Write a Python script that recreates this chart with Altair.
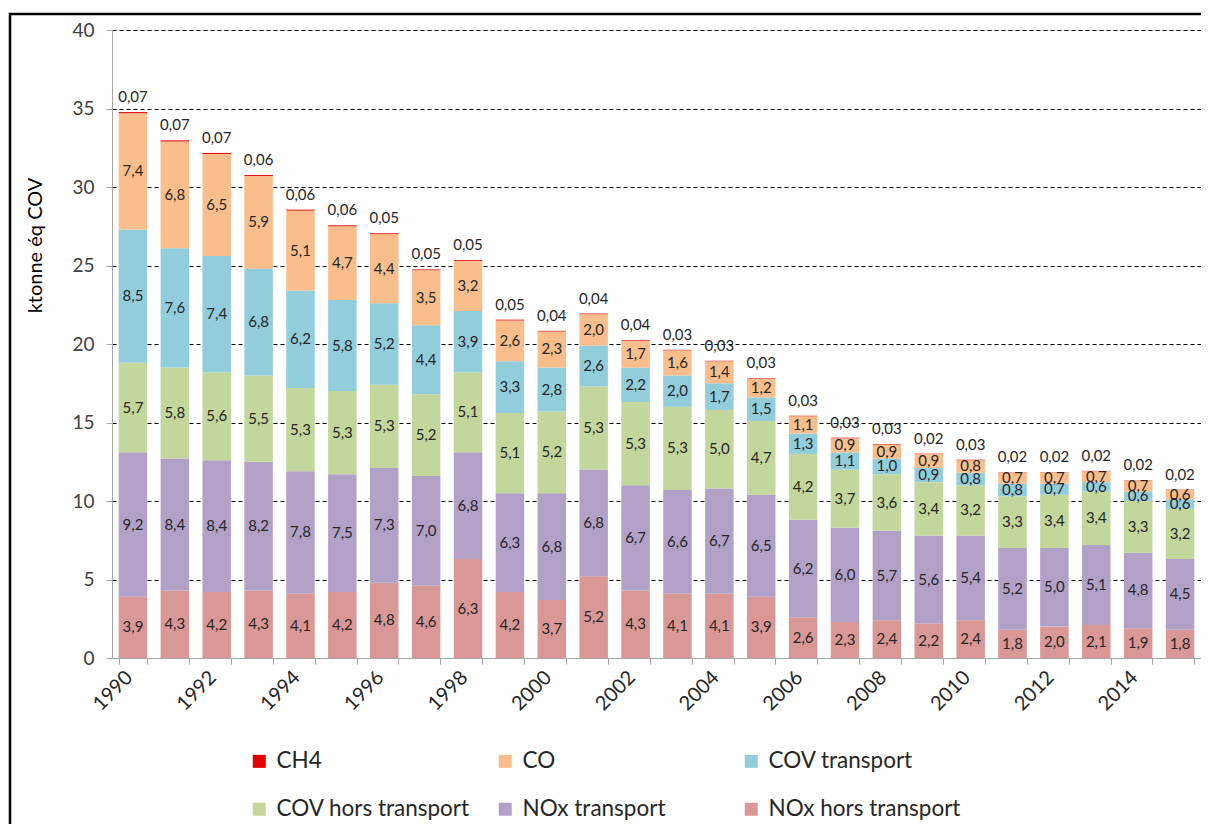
import altair as alt
import pandas as pd

years = list(range(1990, 2016))
series_names = ["CH4", "CO", "COV transport", "COV hors transport", "NOx transport", "NOx hors transport"]
series_colors = ["#E00000", "#F9BE8C", "#92CDDC", "#C3D69B", "#B2A1C7", "#D99795"]

nox_hors = [3.9, 4.3, 4.2, 4.3, 4.1, 4.2, 4.8, 4.6, 6.3, 4.2, 3.7, 5.2, 4.3, 4.1, 4.1, 3.9, 2.6, 2.3, 2.4, 2.2, 2.4, 1.8, 2.0, 2.1, 1.9, 1.8]
nox_transport = [9.2, 8.4, 8.4, 8.2, 7.8, 7.5, 7.3, 7.0, 6.8, 6.3, 6.8, 6.8, 6.7, 6.6, 6.7, 6.5, 6.2, 6.0, 5.7, 5.6, 5.4, 5.2, 5.0, 5.1, 4.8, 4.5]
cov_hors = [5.7, 5.8, 5.6, 5.5, 5.3, 5.3, 5.3, 5.2, 5.1, 5.1, 5.2, 5.3, 5.3, 5.3, 5.0, 4.7, 4.2, 3.7, 3.6, 3.4, 3.2, 3.3, 3.4, 3.4, 3.3, 3.2]
cov_transport = [8.5, 7.6, 7.4, 6.8, 6.2, 5.8, 5.2, 4.4, 3.9, 3.3, 2.8, 2.6, 2.2, 2.0, 1.7, 1.5, 1.3, 1.1, 1.0, 0.9, 0.8, 0.8, 0.7, 0.6, 0.6, 0.6]
co = [7.4, 6.8, 6.5, 5.9, 5.1, 4.7, 4.4, 3.5, 3.2, 2.6, 2.3, 2.0, 1.7, 1.6, 1.4, 1.2, 1.1, 0.9, 0.9, 0.9, 0.8, 0.7, 0.7, 0.7, 0.7, 0.6]
ch4 = [0.07, 0.07, 0.07, 0.06, 0.06, 0.06, 0.05, 0.05, 0.05, 0.05, 0.04, 0.04, 0.04, 0.03, 0.03, 0.03, 0.03, 0.03, 0.03, 0.02, 0.03, 0.02, 0.02, 0.02, 0.02, 0.02]

stack_order = [
    ("NOx hors transport", nox_hors),
    ("NOx transport", nox_transport),
    ("COV hors transport", cov_hors),
    ("COV transport", cov_transport),
    ("CO", co),
    ("CH4", ch4),
]

rows = []
for idx, (name, vals) in enumerate(stack_order):
    for y, v in zip(years, vals):
        rows.append({"year": y, "series": name, "value": v, "idx": idx})
df = pd.DataFrame(rows)

FONT = "Lato"
TXT = "#262626"

xscale = alt.Scale(paddingInner=0.32, paddingOuter=0.16)
yscale = alt.Scale(domain=[0, 40])

x_axis = alt.Axis(
    title=None,
    labelAngle=-45,
    labelAlign="right",
    labelBaseline="top",
    labelFont=FONT,
    labelFontSize=20,
    labelColor=TXT,
    labelPadding=3,
    labelOffset=-11,
    labelOverlap=False,
    labelExpr="datum.value % 2 == 0 ? datum.label : ''",
    tickBand="extent",
    tickSize=6,
    tickColor="#A6A6A6",
    domainColor="#A6A6A6",
    grid=False,
)

y_axis = alt.Axis(
    title="ktonne éq COV",
    titleFont=FONT,
    titleFontSize=20,
    titleFontWeight="normal",
    titleColor="#000000",
    titleAngle=270,
    titleX=-77,
    titleY=215,
    titleAlign="center",
    titleBaseline="middle",
    values=[0, 5, 10, 15, 20, 25, 30, 35, 40],
    labelFont=FONT,
    labelFontSize=19,
    labelColor="#404040",
    labelPadding=12,
    tickSize=6,
    tickColor="#A6A6A6",
    domainColor="#A6A6A6",
    grid=True,
    gridColor="#000000",
    gridDash=[4, 3],
    gridWidth=1,
)

legend = alt.Legend(
    title=None,
    orient="none",
    legendX=136,
    legendY=720,
    columns=3,
    direction="horizontal",
    gridAlign="all",
    columnPadding=24,
    rowPadding=25,
    symbolType="square",
    symbolSize=169,
    symbolStrokeWidth=0,
    labelFont=FONT,
    labelFontSize=22.5,
    labelColor=TXT,
    labelLimit=400,
    labelOffset=6,
    padding=0,
)

base = alt.Chart(df)

bars = base.mark_bar(opacity=1).encode(
    x=alt.X("year:O", scale=xscale, axis=x_axis),
    y=alt.Y("value:Q", stack="zero", scale=yscale, axis=y_axis),
    color=alt.Color("series:N", scale=alt.Scale(domain=series_names, range=series_colors), legend=legend),
    order=alt.Order("idx:Q", sort="ascending"),
)

stacked = base.transform_stack(
    stack="value",
    groupby=["year"],
    as_=["y0", "y1"],
    sort=[alt.SortField("idx", order="ascending")],
).transform_calculate(
    ymid="(datum.y0 + datum.y1) / 2",
    lab1="replace(format(datum.value, '.1f'), '.', ',')",
    lab2="replace(format(datum.value, '.2f'), '.', ',')",
)

seg_labels = stacked.transform_filter("datum.idx < 5").mark_text(
    font=FONT, fontSize=15, color=TXT
).encode(
    x=alt.X("year:O", scale=xscale, axis=x_axis),
    y=alt.Y("ymid:Q", scale=yscale, axis=y_axis),
    text="lab1:N",
)

top_labels = stacked.transform_filter("datum.idx == 5").mark_text(
    font=FONT, fontSize=15, color=TXT, baseline="alphabetic", dy=-10
).encode(
    x=alt.X("year:O", scale=xscale, axis=x_axis),
    y=alt.Y("y1:Q", scale=yscale, axis=y_axis),
    text="lab2:N",
)

frame = alt.Chart(pd.DataFrame({"k": [0]})).mark_rect(
    filled=False, stroke="#000000", strokeWidth=2.5
).encode(
    x=alt.value(-102), x2=alt.value(3000), y=alt.value(-16), y2=alt.value(3000)
)

chart = alt.layer(frame, bars, seg_labels, top_labels).properties(
    width=1089,
    height=628,
    autosize=alt.AutoSizeParams(type="none"),
    padding={"left": 104, "top": 22, "right": 0, "bottom": 166},
).configure_view(stroke=None).configure(background="white")

chart.save("out.html", embed_options={"renderer": "svg", "actions": False})
